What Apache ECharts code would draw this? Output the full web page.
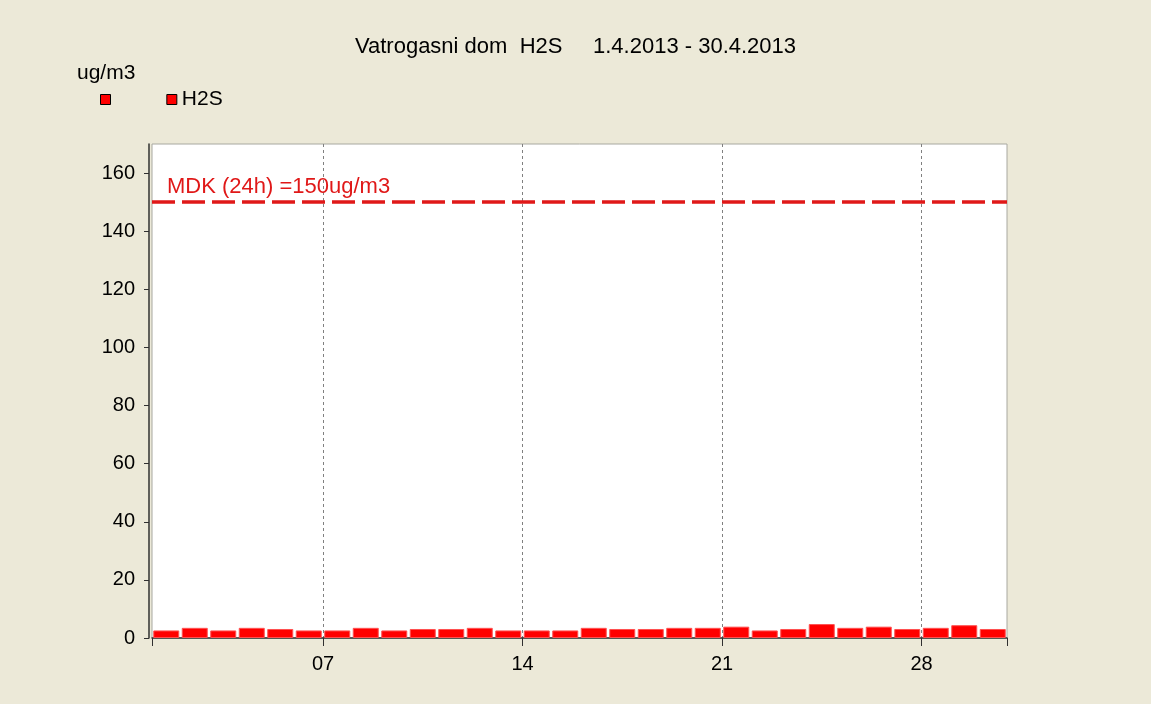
<!DOCTYPE html>
<html>
<head>
<meta charset="utf-8">
<script src="https://cdn.jsdelivr.net/npm/echarts@6/dist/echarts.min.js"></script>
<style>
  html, body { margin: 0; padding: 0; background: #ece9d8; }
  #chart { width: 1151px; height: 704px; }
</style>
</head>
<body>
<div id="chart"></div>
<script>
// dani u mjesecu (travanj 2013)
const days = [1, 2, 3, 4, 5, 6, 7, 8, 9, 10, 11, 12, 13, 14, 15,
  16, 17, 18, 19, 20, 21, 22, 23, 24, 25, 26, 27, 28, 29, 30];
// dnevne vrijednosti H2S (ug/m3)
const h2s = [2.6, 3.5, 2.6, 3.5, 3.1, 2.6, 2.6, 3.5, 2.6, 3.1,
  3.1, 3.5, 2.6, 2.6, 2.6, 3.5, 3.1, 3.1, 3.5, 3.5,
  3.9, 2.6, 3.1, 4.8, 3.5, 3.9, 3.1, 3.5, 4.4, 3.1];
const limitValue = 150;
const limitLabel = 'MDK (24h) =150ug/m3';
const xTickValues = [1, 7, 14, 21, 28, 31];
const xLabelValues = [7, 14, 21, 28];

const font = '"Liberation Sans", Arial, sans-serif';
const myChart = echarts.init(document.getElementById('chart'));

const option = {
  backgroundColor: '#ece9d8',
  animation: false,
  title: [
    {
      text: 'Vatrogasni dom  H2S     1.4.2013 - 30.4.2013',
      left: 'center',
      top: 31,
      textStyle: { fontFamily: font, fontSize: 22, fontWeight: 'normal', color: '#000' },
    },
    {
      text: 'ug/m3',
      left: 72,
      top: 58,
      textStyle: { fontFamily: font, fontSize: 21, fontWeight: 'normal', color: '#000' },
    },
  ],
  legend: {
    left: 95,
    top: 84,
    icon: 'rect',
    itemWidth: 10,
    itemHeight: 10,
    itemGap: 45,
    textStyle: { fontFamily: font, fontSize: 21, color: '#000' },
    data: [
      { name: ' ', itemStyle: { color: '#ff0000', borderColor: '#000', borderWidth: 1 } },
      { name: 'H2S', itemStyle: { color: '#ff0000', borderColor: '#000', borderWidth: 1 } },
    ],
  },
  grid: {
    left: 152,
    right: 144,
    top: 144,
    bottom: 66,
    show: true,
    backgroundColor: '#fff',
    borderColor: '#a8a8a0',
    borderWidth: 1,
  },
  xAxis: {
    type: 'value',
    min: 1,
    max: 31,
    offset: 3,
    axisLine: { show: true, lineStyle: { color: '#303030', width: 1.5 } },
    axisTick: { show: true, length: 8, customValues: xTickValues, lineStyle: { color: '#303030' } },
    axisLabel: {
      customValues: xLabelValues,
      margin: 13,
      fontFamily: font,
      fontSize: 20,
      color: '#000',
      formatter: (v) => String(v).padStart(2, '0'),
    },
    splitLine: {
      show: true,
      showMinLine: false,
      showMaxLine: false,
      lineStyle: { color: '#808080', type: [3, 3], width: 1 },
    },
  },
  yAxis: {
    type: 'value',
    min: 0,
    max: 170,
    interval: 20,
    offset: 3,
    axisLine: { show: true, lineStyle: { color: '#303030', width: 1.5 } },
    axisTick: { show: true, length: 5, lineStyle: { color: '#303030' } },
    axisLabel: {
      margin: 14,
      showMaxLabel: false,
      fontFamily: font,
      fontSize: 20,
      color: '#000',
    },
    splitLine: { show: false },
  },
  series: [
    {
      name: ' ',
      type: 'line',
      data: [],
      silent: true,
      markLine: {
        symbol: 'none',
        silent: true,
        lineStyle: { color: '#e01818', width: 3.5, type: [23, 7] },
        label: {
          show: true,
          position: 'insideStartTop',
          distance: [15, 4],
          formatter: limitLabel,
          fontFamily: font,
          fontSize: 22,
          color: '#e01818',
        },
        data: [{ yAxis: limitValue }],
      },
    },
    {
      name: 'H2S',
      type: 'bar',
      barWidth: 26,
      itemStyle: { color: '#ff0000', borderColor: '#ff5050', borderWidth: 1 },
      // stupci centrirani na podne svakog dana
      data: days.map((d, i) => [d + 0.5, h2s[i]]),
    },
  ],
};

myChart.setOption(option);
</script>
</body>
</html>
